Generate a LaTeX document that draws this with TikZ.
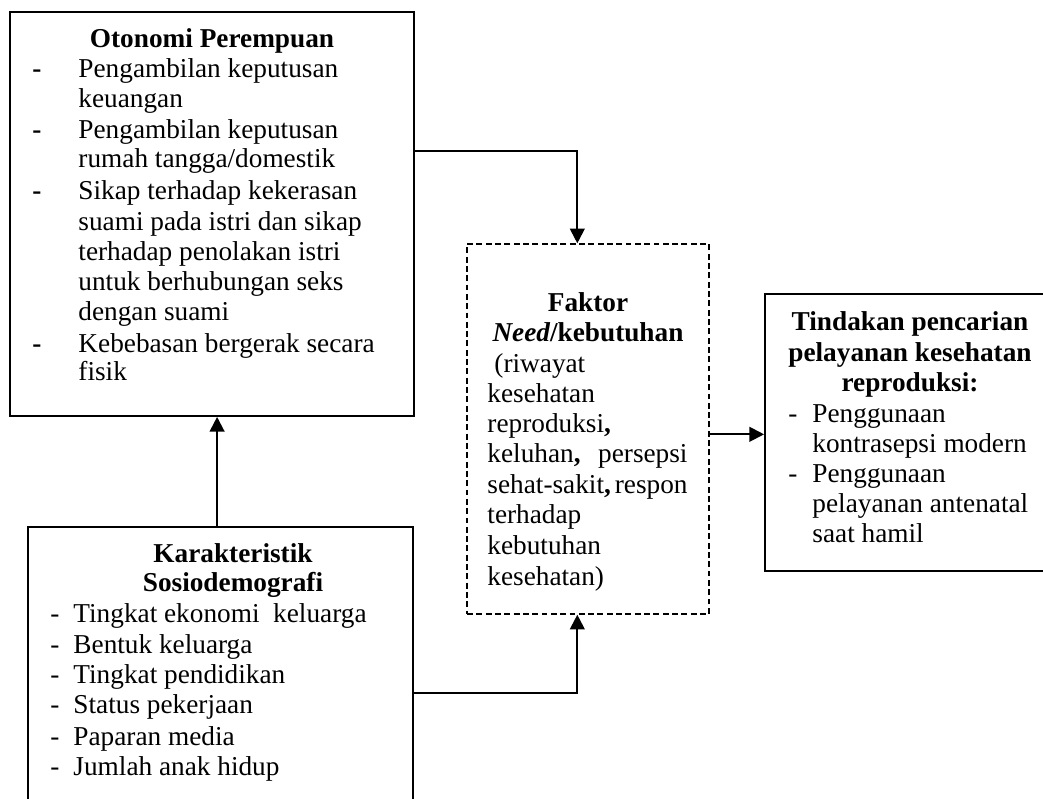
\documentclass[tikz,border=0pt]{standalone}
\usepackage{fontspec}
\setmainfont{Liberation Serif}
\usetikzlibrary{arrows.meta,calc,fit}
\newcounter{tn}
\newcommand\TL[3]{\stepcounter{tn}\node[txt,anchor=base west] (t\arabic{tn}) at (#1,#2) {#3};}
\newcommand\TC[3]{\stepcounter{tn}\node[txt,anchor=base] (t\arabic{tn}) at (#1,#2) {#3};}
\newcommand\TR[3]{\stepcounter{tn}\node[txt,anchor=base east] (t\arabic{tn}) at (#1,#2) {#3};}
\begin{document}
\begin{tikzpicture}[x=0.44pt,y=-0.44pt,
  txt/.style={inner sep=0pt, font=\fontsize{12pt}{13.3pt}\selectfont},
  box/.style={draw, line width=0.8pt, inner sep=0pt},
  dbox/.style={draw, line width=0.6pt, dash pattern=on 2.6pt off 1.5pt, inner sep=0pt},
  arr/.style={line width=0.9pt, -{Triangle[length=6.5pt,width=6.5pt]}}]
\useasboundingbox (0,0) rectangle (1043,799);
\clip (0,0) rectangle (1043,799);
% boxes
\node[box, fit={(10,12) (414,416)}] (oto) {};
\node[dbox, fit={(467,244) (709,614)}] (need) {};
\node[box, fit={(765,294) (1075,571)}] (act) {};
\node[box, fit={(28,527) (413,850)}] (soc) {};
% connectors
\draw[arr] ($(oto.north east)+(0,140)$) -| ($(need.north west)+(111,0)$);
\coordinate (s1) at ($(soc.north west)+(190,0)$);
\draw[arr] (s1) -- (s1 |- oto.south);
\draw[arr] ($(soc.north east)+(0,167)$) -| ($(need.south west)+(111,0)$);
\coordinate (n1) at ($(need.north east)+(0,191)$);
\draw[arr] (n1) -- (n1 -| act.west);
% top box text
\TC{212}{47}{\bfseries Otonomi Perempuan}
\TL{32}{77}{\bfseries -}
\TL{32}{138}{\bfseries -}
\TL{32}{199}{\bfseries -}
\TL{32}{352}{\bfseries -}
\TL{78}{77}{Pengambilan keputusan}
\TL{78}{107}{keuangan}
\TL{78}{138}{Pengambilan keputusan}
\TL{78}{167}{rumah tangga/domestik}
\TL{78}{199}{Sikap terhadap kekerasan}
\TL{78}{230}{suami pada istri dan sikap}
\TL{78}{260}{terhadap penolakan istri}
\TL{78}{290}{untuk berhubungan seks}
\TL{78}{320}{dengan suami}
\TL{78}{352}{Kebebasan bergerak secara}
\TL{78}{380}{fisik}
% need box text
\TC{588}{311}{\bfseries Faktor}
\TC{588}{341}{\bfseries\itshape Need\upshape/kebutuhan}
\TL{494}{372}{(riwayat}
\TL{487}{402}{kesehatan}
\TL{487}{432}{reproduksi\textbf{,}}
\TL{487}{462}{keluhan\textbf{,}}
\TR{688}{462}{persepsi}
\TL{487}{493}{sehat-sakit\textbf{,}}
\TR{688}{493}{respon}
\TL{487}{523}{terhadap}
\TL{487}{554}{kebutuhan}
\TL{487}{585}{kesehatan)}
% action box text
\TC{910}{330}{\bfseries Tindakan pencarian}
\TC{910}{361}{\bfseries pelayanan kesehatan}
\TC{910}{391}{\bfseries reproduksi:}
\TL{788}{422}{-}
\TL{788}{482}{-}
\TL{812}{422}{Penggunaan}
\TL{812}{452}{kontrasepsi modern}
\TL{812}{482}{Penggunaan}
\TL{812}{512}{pelayanan antenatal}
\TL{812}{542}{saat hamil}
% socio box text
\TC{233}{562}{\bfseries Karakteristik}
\TC{233}{591}{\bfseries Sosiodemografi}
\TL{50}{622}{-}
\TL{50}{653}{-}
\TL{50}{683}{-}
\TL{50}{713}{-}
\TL{50}{745}{-}
\TL{50}{775}{-}
\TL{73}{622}{Tingkat ekonomi\ \ keluarga}
\TL{73}{653}{Bentuk keluarga}
\TL{73}{683}{Tingkat pendidikan}
\TL{73}{713}{Status pekerjaan}
\TL{73}{745}{Paparan media}
\TL{73}{775}{Jumlah anak hidup}
\end{tikzpicture}
\end{document}
